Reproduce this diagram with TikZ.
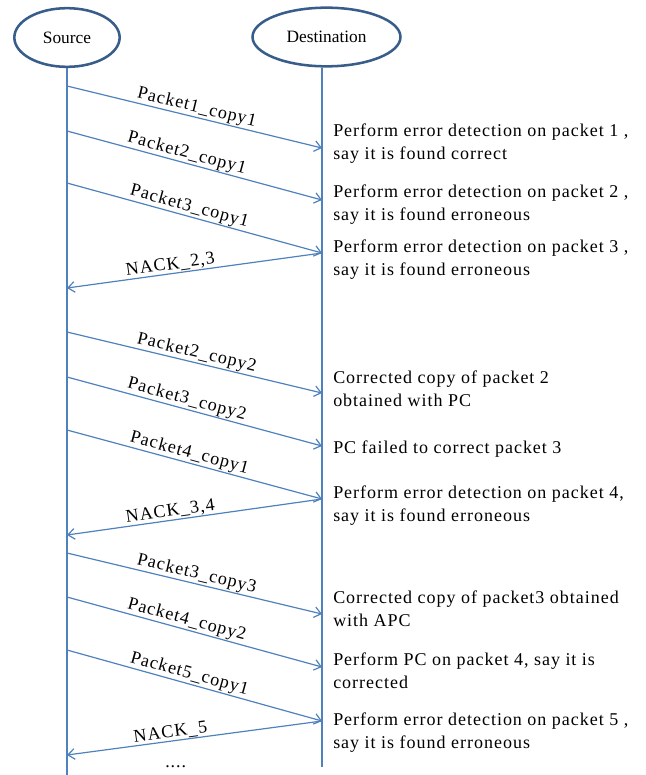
\documentclass[tikz,border=0pt]{standalone}
\usepackage{fontspec}
\setmainfont{Liberation Serif}
\newfontfamily\wordfont[LetterSpace=5.5]{Liberation Serif}
\usetikzlibrary{shapes.geometric,arrows.meta}

\definecolor{lineblue}{RGB}{79,129,189}
\definecolor{edgeblue}{RGB}{56,93,138}

\tikzset{
  party/.style={ellipse, draw=edgeblue, line width=1.9pt, fill=white, inner sep=0pt, font=\fontsize{13}{15}\selectfont},
  life/.style={lineblue, line width=1pt},
  msg/.style={lineblue, line width=0.9pt, -{Straight Barb[length=5pt,width=8pt]}},
  pktlbl/.style={sloped, above, text=black, inner sep=0.5pt, font=\wordfont\fontsize{13.5}{16}\selectfont},
  note/.style={anchor=base west, inner sep=0pt, align=left, font=\wordfont\fontsize{13.5}{17}\selectfont}
}

\begin{document}
\begin{tikzpicture}[x=0.75pt,y=-0.75pt]
\useasboundingbox (0,0) rectangle (646,775);

%Ellipses
\node (src) [party, minimum width=79pt, minimum height=44pt] at (67,37.5) {Source};
\node (dst) [party, minimum width=111pt, minimum height=44pt] at (326.5,37) {Destination};

%Lifelines
\coordinate (send) at (67,775);
\coordinate (dend) at (322,767);
\draw [life] (src.south) -- (send);
\draw [life] (dst.south -| dend) -- (dend);

%Points on the lifelines
\foreach \n/\ys/\yd in {1/86/148, 2/131/200, 3/183/253, 4/332/393, 5/377/446,
                        6/430/499, 7/553/614, 8/597/667, 9/650/721}
  {\coordinate (s\n) at (67,\ys);
   \coordinate (d\n) at (322,\yd);}
\coordinate (r1) at (67,288);
\coordinate (r2) at (67,535);
\coordinate (r3) at (67,755);

%Packets
\foreach \n/\lbl/\p in {1/Packet1\_copy1/0.5, 2/Packet2\_copy1/0.46, 3/Packet3\_copy1/0.47,
                        4/Packet2\_copy2/0.5, 5/Packet3\_copy2/0.46, 6/Packet4\_copy1/0.47,
                        7/Packet3\_copy3/0.5, 8/Packet4\_copy2/0.46, 9/Packet5\_copy1/0.47}
  \draw [msg] (s\n) -- node (p\n) [pktlbl, pos=\p] {\lbl} (d\n);

%NACKs
\draw [msg] (d3) -- node (nack1) [pktlbl, pos=0.59] {NACK\_2,3} (r1);
\draw [msg] (d6) -- node (nack2) [pktlbl, pos=0.59] {NACK\_3,4} (r2);
\draw [msg] (d9) -- node (nack3) [pktlbl, pos=0.59] {NACK\_5} (r3);

% Text Node (anchored at the baseline of the last line)
\node (res1) [note] at (333,159) {Perform error detection on packet 1 ,\\say it is found correct};
% Text Node
\node (res2) [note] at (333,220) {Perform error detection on packet 2 ,\\say it is found erroneous};
% Text Node
\node (res3) [note] at (333,275) {Perform error detection on packet 3 ,\\say it is found erroneous};
% Text Node
\node (res4) [note] at (333,406) {Corrected copy of packet 2\\obtained with PC};
% Text Node
\node (res5) [note] at (333,453) {PC failed to correct packet 3};
% Text Node
\node (res6) [note] at (333,521) {Perform error detection on packet 4,\\say it is found erroneous};
% Text Node
\node (res7) [note] at (333,626) {Corrected copy of packet3 obtained\\with APC};
% Text Node
\node (res8) [note] at (333,688) {Perform PC on packet 4, say it is\\corrected};
% Text Node
\node (res9) [note] at (333,748) {Perform error detection on packet 5 ,\\say it is found erroneous};
% Text Node
\node (more) [note] at (165,767) {....};
\end{tikzpicture}
\end{document}
